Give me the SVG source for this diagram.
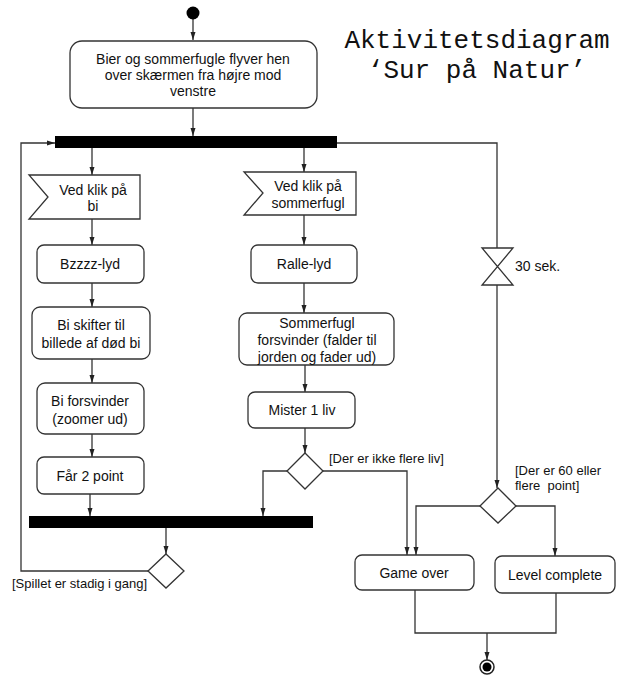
<svg xmlns="http://www.w3.org/2000/svg" width="634" height="685" viewBox="0 0 634 685">
<style>
.box{fill:#fff;stroke:#333;stroke-width:1.3}
.bar{fill:#000}
.t{font-family:"Liberation Sans",Arial,sans-serif;font-size:14px;fill:#111;text-anchor:middle}
.lbl{font-family:"Liberation Sans",Arial,sans-serif;font-size:13px;fill:#111}
.title{font-family:"Liberation Mono","Courier New",monospace;font-size:26px;fill:#111;text-anchor:middle}
.c{fill:none;stroke:#333;stroke-width:1.3}
</style>
<defs>
<marker id="ah" markerUnits="userSpaceOnUse" markerWidth="8" markerHeight="8" viewBox="0 0 8 8" refX="8" refY="4" orient="auto">
<path d="M0 1.5 L8 4 L0 6.5 Z" fill="#222"/>
</marker>
</defs>
<rect width="634" height="685" fill="#fff"/>
<g id="title">
<text class="title" x="477" y="48">Aktivitetsdiagram</text>
<text class="title" x="477" y="78">‘Sur på Natur’</text>
</g>
<g id="connectors">
<path class="c" d="M193 19 V40" marker-end="url(#ah)"/>
<path class="c" d="M193 108 V136" marker-end="url(#ah)"/>
<path class="c" d="M92 148 V175" marker-end="url(#ah)"/>
<path class="c" d="M92 219 V245" marker-end="url(#ah)"/>
<path class="c" d="M92 283 V307" marker-end="url(#ah)"/>
<path class="c" d="M92 359 V383" marker-end="url(#ah)"/>
<path class="c" d="M92 434 V457" marker-end="url(#ah)"/>
<path class="c" d="M90 494 V516" marker-end="url(#ah)"/>
<path class="c" d="M304 148 V172" marker-end="url(#ah)"/>
<path class="c" d="M304 215 V245" marker-end="url(#ah)"/>
<path class="c" d="M304 283 V313" marker-end="url(#ah)"/>
<path class="c" d="M305 365 V392" marker-end="url(#ah)"/>
<path class="c" d="M305 428 V453" marker-end="url(#ah)"/>
<path class="c" d="M287 471 H263 V516" marker-end="url(#ah)"/>
<path class="c" d="M323 471 H407 V555" marker-end="url(#ah)"/>
<path class="c" d="M337 143 H497 V248"/>
<path class="c" d="M497 285 V488" marker-end="url(#ah)"/>
<path class="c" d="M480 506 H416 V555" marker-end="url(#ah)"/>
<path class="c" d="M516 506 H555 V556" marker-end="url(#ah)"/>
<path class="c" d="M166 528 V554" marker-end="url(#ah)"/>
<path class="c" d="M148 571 H21 V143 H55" marker-end="url(#ah)"/>
<path class="c" d="M415 590 V633 H556 V593"/>
<path class="c" d="M487 633 V660" marker-end="url(#ah)"/>
</g>
<g id="start"><circle cx="193" cy="13" r="6.5" fill="#000"/></g>
<g id="n-fly">
<rect class="box" x="70" y="41" width="247" height="67" rx="12"/>
<text class="t" x="193" y="64">Bier og sommerfugle flyver hen</text>
<text class="t" x="193" y="80">over skærmen fra højre mod</text>
<text class="t" x="193" y="96">venstre</text>
</g>
<g id="fork-top"><rect class="bar" x="55" y="136" width="282" height="12"/></g>
<g id="n-klik-bi">
<path class="box" d="M29 175 H140 V219 H29 L48 197 Z"/>
<text class="t" x="93" y="195">Ved klik på</text>
<text class="t" x="93" y="211">bi</text>
</g>
<g id="n-bzzz">
<rect class="box" x="37" y="245" width="107" height="38" rx="7"/>
<text class="t" x="90" y="269">Bzzzz-lyd</text>
</g>
<g id="n-bi-skifter">
<rect class="box" x="32" y="307" width="118" height="52" rx="8"/>
<text class="t" x="91" y="330">Bi skifter til</text>
<text class="t" x="91" y="348">billede af død bi</text>
</g>
<g id="n-bi-forsvinder">
<rect class="box" x="37" y="383" width="107" height="51" rx="8"/>
<text class="t" x="90" y="406">Bi forsvinder</text>
<text class="t" x="90" y="424">(zoomer ud)</text>
</g>
<g id="n-point">
<rect class="box" x="37" y="457" width="107" height="37" rx="7"/>
<text class="t" x="90" y="481">Får 2 point</text>
</g>
<g id="n-klik-sommerfugl">
<path class="box" d="M244 172 H356 V215 H244 L263 193 Z"/>
<text class="t" x="308" y="191">Ved klik på</text>
<text class="t" x="308" y="208">sommerfugl</text>
</g>
<g id="n-ralle">
<rect class="box" x="251" y="245" width="106" height="38" rx="7"/>
<text class="t" x="304" y="269">Ralle-lyd</text>
</g>
<g id="n-sommerfugl-forsvinder">
<rect class="box" x="239" y="313" width="155" height="52" rx="8"/>
<text class="t" x="317" y="328">Sommerfugl</text>
<text class="t" x="317" y="345">forsvinder (falder til</text>
<text class="t" x="317" y="362">jorden og fader ud)</text>
</g>
<g id="n-liv">
<rect class="box" x="248" y="392" width="107" height="36" rx="7"/>
<text class="t" x="302" y="415">Mister 1 liv</text>
</g>
<g id="d-liv">
<path class="box" d="M305 453 L323 471 L305 489 L287 471 Z"/>
<text class="lbl" x="329" y="463">[Der er ikke flere liv]</text>
</g>
<g id="timer">
<path class="box" d="M482 248 H513 L482 285 H513 Z"/>
<text class="lbl" x="515" y="271" style="font-size:14px">30 sek.</text>
</g>
<g id="join-bottom"><rect class="bar" x="29" y="516" width="284" height="12"/></g>
<g id="d-spil">
<path class="box" d="M166 554 L184 571 L166 588 L148 571 Z"/>
<text class="lbl" x="12" y="588">[Spillet er stadig i gang]</text>
</g>
<g id="d-point">
<path class="box" d="M498 488 L516 506 L498 523 L480 506 Z"/>
<text class="lbl" x="515" y="475">[Der er 60 eller</text>
<text class="lbl" x="515" y="490" xml:space="preserve">flere  point]</text>
</g>
<g id="n-gameover">
<rect class="box" x="355" y="555" width="119" height="35" rx="7"/>
<text class="t" x="414" y="578">Game over</text>
</g>
<g id="n-level">
<rect class="box" x="495" y="556" width="120" height="37" rx="7"/>
<text class="t" x="555" y="580">Level complete</text>
</g>
<g id="end">
<circle cx="487" cy="667" r="7" fill="#fff" stroke="#222" stroke-width="1.5"/>
<circle cx="487" cy="667" r="4.5" fill="#000"/>
</g>
</svg>
